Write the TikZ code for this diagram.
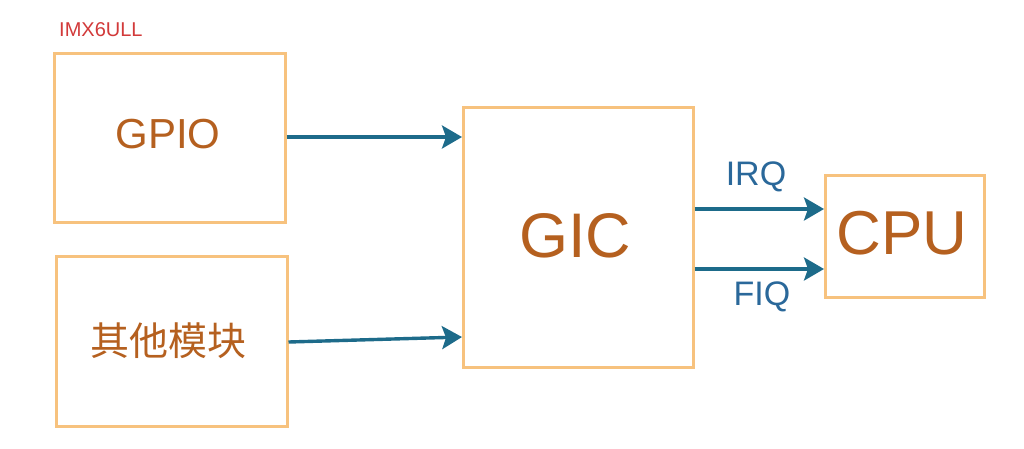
\documentclass[tikz,border=0pt]{standalone}
\usepackage{fontspec}
\setmainfont{Liberation Sans}
\newfontfamily\cjk{Noto Sans CJK SC}
\usetikzlibrary{arrows.meta}
\definecolor{boxc}{HTML}{F7C27E}
\definecolor{txtc}{HTML}{B5601F}
\definecolor{arrc}{HTML}{1D6B8A}
\definecolor{lblc}{HTML}{2A689A}
\definecolor{redc}{HTML}{D23A3A}
\tikzset{
  blk/.style={draw=boxc, line width=2.5pt, inner sep=0pt, anchor=north west},
  btxt/.style={text=txtc, inner sep=0pt},
  conn/.style={draw=arrc, line width=3.4pt, -{Stealth[length=20pt,width=23pt,inset=4pt]}},
  lbl/.style={text=lblc, font=\fontsize{34}{36}\selectfont, inner sep=0pt}
}
\begin{document}
\begin{tikzpicture}[x=1pt,y=-1pt]
\useasboundingbox (0,0) rectangle (1024,448);
\fill[white] (0,0) rectangle (1024,448);
\node[text=redc, font=\fontsize{20}{22}\selectfont, inner sep=0pt, anchor=west] (imx) at (59,30) {IMX6ULL};
\node[blk, minimum width=231pt, minimum height=169pt] (gpio) at (53,52) {};
\node[blk, minimum width=231pt, minimum height=170pt] (other) at (55,255) {};
\node[blk, minimum width=230pt, minimum height=260pt] (gic) at (462,106) {};
\node[blk, minimum width=159pt, minimum height=122pt] (cpu) at (824,174) {};
\node[btxt, font=\fontsize{42}{44}\selectfont] (tgpio) at (168,134) {GPIO};
\node[btxt, font=\cjk\fontsize{39}{41}\selectfont] (tother) at (168,341) {其他模块};
\node[btxt, font=\fontsize{63}{66}\selectfont] (tgic) at (575,236) {GIC};
\node[btxt, font=\fontsize{62}{64}\selectfont] (tcpu) at (902,233) {CPU};
\coordinate (g1) at (gpio.east |- 0,137);
\coordinate (g2) at (gic.west |- 0,137);
\coordinate (o1) at (other.east |- 0,342);
\coordinate (o2) at (gic.west |- 0,337);
\coordinate (i1) at (gic.east |- 0,209);
\coordinate (i2) at (cpu.west |- 0,209);
\coordinate (f1) at (gic.east |- 0,269);
\coordinate (f2) at (cpu.west |- 0,269);
\draw[conn] (g1) -- (g2);
\draw[conn] (o1) -- (o2);
\draw[conn] (i1) -- (i2);
\draw[conn] (f1) -- (f2);
\node[lbl] (irq) at (756,177) {IRQ};
\node[lbl] (fiq) at (762,297) {FIQ};
\end{tikzpicture}
\end{document}
